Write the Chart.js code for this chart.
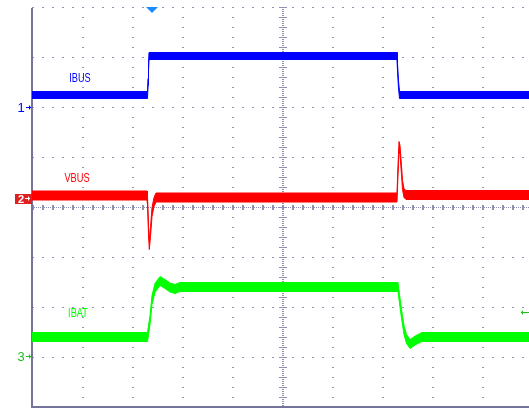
<!DOCTYPE html>
<html>
<head>
<meta charset="utf-8">
<script src="https://cdn.jsdelivr.net/npm/chart.js@4/dist/chart.umd.min.js"></script>
<style>
  html, body { margin: 0; padding: 0; background: #fff; overflow: hidden; }
  canvas { display: block; }
</style>
</head>
<body>
<canvas id="scope" width="529" height="409"></canvas>
<script>
// time in divisions (10 div across the screen), values in divisions (0 = centre line)
var ibusTime = [0, 2.31, 2.32, 2.33, 2.34, 7.30, 7.31, 7.33, 7.35, 9.94];
var ibusVal  = [2.24, 2.24, 2.5, 2.8, 3.02, 3.02, 2.8, 2.45, 2.24, 2.24];

var vbusTime = [0, 2.30, 2.31, 2.33, 2.346, 2.37, 2.40, 2.44, 2.48, 7.30, 7.32, 7.34, 7.36, 7.39, 7.41, 7.44, 7.48, 9.94];
var vbusVal  = [0.23, 0.23, 0.14, -0.46, -0.76, -0.5, -0.1, 0.1, 0.19, 0.19, 0.74, 1.22, 1.14, 0.74, 0.44, 0.28, 0.24, 0.24];

var ibatTime = [0, 2.31, 2.36, 2.40, 2.46, 2.56, 2.66, 2.76, 2.86, 2.96, 7.32, 7.35, 7.394, 7.44, 7.49, 7.56, 7.68, 7.80, 9.94];
var ibatVal  = [-2.6, -2.6, -2.26, -1.86, -1.62, -1.48, -1.54, -1.61, -1.64, -1.6, -1.6, -1.84, -2.16, -2.46, -2.64, -2.74, -2.66, -2.6, -2.6];

var blue = '#0000ff', red = '#ff0000', green = '#00ff00';

function band(time, val, half, color) {
    var hi = [], lo = [];
    for (var i = 0; i < time.length; i++) {
        hi.push({x: time[i], y: val[i] + half});
        lo.push({x: time[i], y: val[i] - half});
    }
    return [
        {data: hi, borderColor: color, borderWidth: 1, pointRadius: 0, fill: false},
        {data: lo, borderColor: color, borderWidth: 1, pointRadius: 0, fill: '-1', backgroundColor: color}
    ];
}

var gridPlugin = {
    id: 'scopeGrid',
    beforeDatasetsDraw: function(chart) {
        var c = chart.ctx, xs = chart.scales.x, ys = chart.scales.y;
        var top = ys.getPixelForValue(4), bottom = ys.getPixelForValue(-4);
        var left = xs.getPixelForValue(0), right = chart.width;
        c.save();
        c.fillStyle = '#9090b0';
        for (var k = 1; k < 10; k++) {
            var gx = Math.round(xs.getPixelForValue(k));
            for (var y = top; y <= bottom; y += 10) c.fillRect(gx, Math.round(y), 2, 1);
        }
        for (var j = -4; j <= 4; j++) {
            var gy = Math.round(ys.getPixelForValue(j));
            for (var x = left; x <= right; x += 10) c.fillRect(Math.round(x), gy, 2, 1);
        }
        // centre crosshair
        var cx = Math.round(xs.getPixelForValue(5)), cy = Math.round(ys.getPixelForValue(0));
        for (var x2 = left; x2 <= right; x2 += 2) c.fillRect(x2, cy, 1, 1);
        for (var x3 = left; x3 <= right; x3 += 10) c.fillRect(Math.round(x3), cy - 2, 2, 5);
        for (var y2 = top; y2 <= bottom; y2 += 2) c.fillRect(cx, y2, 2, 1);
        for (var y3 = top; y3 <= bottom; y3 += 10) c.fillRect(cx - 3, Math.round(y3), 8, 1);
        // axes
        c.fillStyle = '#74749a';
        c.fillRect(left - 1, top + 1, 2, bottom - top);
        c.fillRect(left - 1, bottom - 1, right - left + 1, 2);
        c.restore();
    },
    afterDraw: function(chart) {
        var c = chart.ctx;
        c.save();
        function label(txt, cx, base, color) {
            c.save();
            c.font = '12px "Liberation Sans", Arial, sans-serif';
            c.fillStyle = color;
            c.textAlign = 'center';
            c.translate(cx, base);
            c.scale(0.77, 1);
            c.fillText(txt, 0, 0);
            c.restore();
        }
        function arrow(x0, x1, y, color) {
            c.strokeStyle = color;
            c.fillStyle = color;
            c.lineWidth = 1;
            c.beginPath();
            c.moveTo(x0, y + 0.5);
            c.lineTo(x1, y + 0.5);
            c.stroke();
            var hx = x1 > x0 ? x1 - 2 : x1 + 2;
            c.beginPath();
            c.moveTo(x1, y + 0.5);
            c.lineTo(hx, y - 2);
            c.lineTo(hx, y + 3);
            c.closePath();
            c.fill();
        }
        label('IBUS', 80, 82, blue);
        label('VBUS', 77, 182, red);
        label('IBAT', 78, 317, green);

        // channel markers
        c.font = '13px "Liberation Sans", Arial, sans-serif';
        c.textAlign = 'center';
        c.fillStyle = blue;
        c.fillText('1', 21, 112);
        arrow(26, 31, 107, blue);

        c.fillStyle = '#e02020';
        c.fillRect(15, 194, 17, 10);
        c.fillStyle = '#fff';
        c.font = 'bold 11px "Liberation Sans", Arial, sans-serif';
        c.fillText('2', 21, 203);
        arrow(25, 30, 198, '#fff');

        c.font = '13px "Liberation Sans", Arial, sans-serif';
        c.fillStyle = '#20c020';
        c.fillText('3', 21, 361);
        arrow(26, 31, 356, '#20c020');

        // trigger level arrow on the right
        arrow(529, 521, 312, '#20c020');

        // trigger position marker
        c.fillStyle = '#1a8cff';
        c.beginPath();
        c.moveTo(146, 7);
        c.lineTo(158, 7);
        c.lineTo(152, 13);
        c.closePath();
        c.fill();
        c.restore();
    }
};

var datasets = []
    .concat(band(ibusTime, ibusVal, 0.07, blue))
    .concat(band(vbusTime, vbusVal, 0.09, red))
    .concat(band(ibatTime, ibatVal, 0.09, green));

var ctx = document.getElementById('scope');
window.scope = new Chart(ctx, {
    type: 'line',
    data: {datasets: datasets},
    options: {
        responsive: false,
        animation: false,
        layout: {padding: {left: 32, top: 7, right: 0, bottom: 2}},
        elements: {line: {tension: 0}},
        plugins: {legend: {display: false}, tooltip: {enabled: false}},
        scales: {
            x: {type: 'linear', min: 0, max: 9.94, display: false},
            y: {min: -4, max: 4, display: false}
        }
    },
    plugins: [gridPlugin]
});
</script>
</body>
</html>
